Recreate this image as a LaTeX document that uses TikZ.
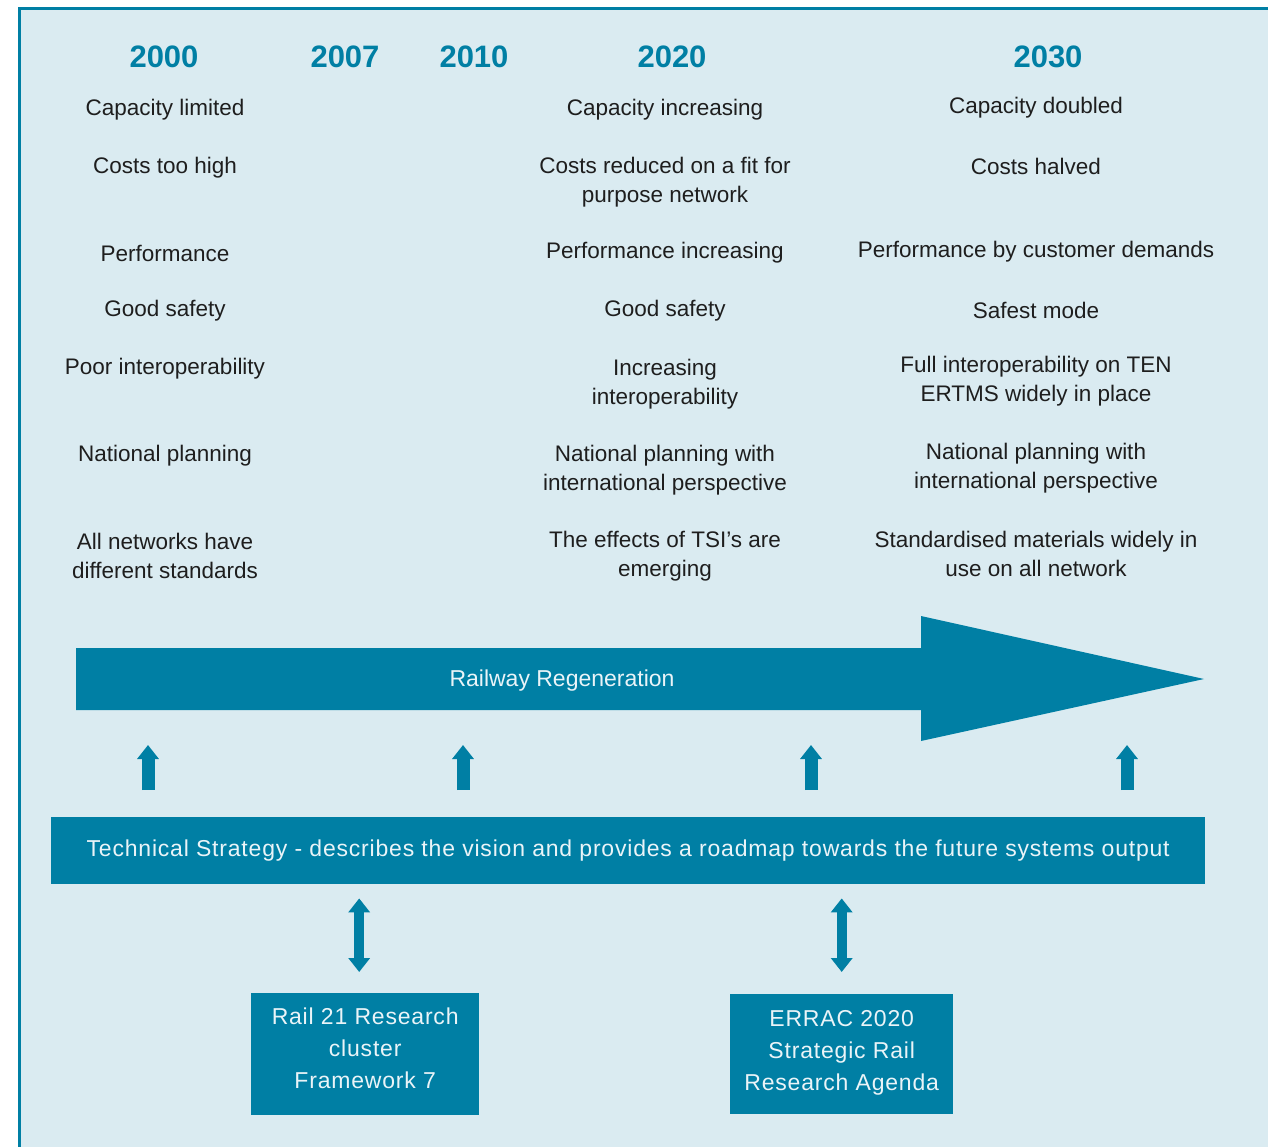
\documentclass[tikz,border=0pt]{standalone}
\usepackage{fontspec}
\setmainfont{Liberation Sans}
\newfontfamily\bandfont[LetterSpace=3.5]{Liberation Sans}
\usepackage{tikz}
\usetikzlibrary{positioning, arrows.meta, calc}
\definecolor{railTeal}{HTML}{007FA4}
\definecolor{panelBg}{HTML}{DAEBF1}
\definecolor{ink}{HTML}{1E1E1E}
\definecolor{bandText}{HTML}{EAF4F8}

\begin{document}
\begin{tikzpicture}[x=1pt,y=-1pt,txt/.style={font=\fontsize{22.5}{29}\selectfont, text=ink, align=center, inner sep=0pt},yr/.style={font=\fontsize{31}{36}\selectfont\bfseries, text=railTeal, inner sep=0pt},band/.style={fill=railTeal, text=bandText, align=center, font=\bandfont\fontsize{23}{32}\selectfont},uparrow/.style={draw=railTeal, line width=13pt, -{Triangle[width=21pt,length=14pt]}},twoway/.style={draw=railTeal, line width=10pt, {Triangle[width=21pt,length=14pt]}-{Triangle[width=21pt,length=14pt]}}]
\useasboundingbox (0,0) rectangle (1268,1147);
\fill[panelBg] (19,9) rectangle (1268,1147);
\draw[railTeal, line width=3pt] (1268,9) -- (19,9) -- (19,1147);
\node[yr] (y2000) at (164,57) {2000};
\node[yr] (y2007) at (345,57) {2007};
\node[yr] (y2010) at (474,57) {2010};
\node[yr] (y2020) at (672,57) {2020};
\node[yr] (y2030) at (1048,57) {2030};
\node[txt] (cap00) at (165,110) {Capacity limited};
\node[txt] (cost00) at (165,168) {Costs too high};
\node[txt] (perf00) at (165,253) {Performance};
\node[txt] (safe00) at (165,311) {Good safety};
\node[txt] (inter00) at (165,369) {Poor interoperability};
\node[txt] (plan00) at (165,456) {National planning};
\node[txt] (std00) at (165,556) {All networks have\\different standards};
\node[txt] (cap20) at (665,110) {Capacity increasing};
\node[txt] (cost20) at (665,182) {Costs reduced on a fit for\\purpose network};
\node[txt] (perf20) at (665,253) {Performance increasing};
\node[txt] (safe20) at (665,311) {Good safety};
\node[txt] (inter20) at (665,384) {Increasing\\interoperability};
\node[txt] (plan20) at (665,470) {National planning with\\international perspective};
\node[txt] (std20) at (665,556) {The effects of TSI’s are\\emerging};
\node[txt] (cap30) at (1036,108) {Capacity doubled};
\node[txt] (cost30) at (1036,166) {Costs halved};
\node[txt] (perf30) at (1036,252) {Performance by customer demands};
\node[txt] (safe30) at (1036,310) {Safest mode};
\node[txt] (inter30) at (1036,381) {Full interoperability on TEN\\ERTMS widely in place};
\node[txt] (plan30) at (1036,468) {National planning with\\international perspective};
\node[txt] (std30) at (1036,554) {Standardised materials widely in\\use on all network};
\fill[railTeal] (76,648) -- (921,648) -- (921,616) -- (1204,679) -- (921,741) -- (921,710) -- (76,710) -- cycle;
\node[txt, text=bandText, font=\fontsize{23}{29}\selectfont] (regen) at (562,681) {Railway Regeneration};
\foreach \x in {148,463,811,1127} \draw[uparrow] (\x,790) -- (\x,745);
\node[band, minimum width=1154pt, minimum height=67pt, anchor=north west] (strat) at (51,817) {Technical Strategy - describes the vision and provides a roadmap towards the future systems output};
\node[band, minimum width=228pt, minimum height=122pt, text depth=12pt, anchor=north west] (rail21) at (251,993) {Rail 21 Research\\cluster\\Framework 7};
\node[band, minimum width=223pt, minimum height=120pt, text depth=8pt, anchor=north west] (errac) at (730,994) {ERRAC 2020\\Strategic Rail\\Research Agenda};
\coordinate (r21top) at ([xshift=-6pt]rail21.north);
\draw[twoway] ($(r21top |- strat.south)+(0,14)$) -- ([yshift=21pt]r21top);
\draw[twoway] ($(errac.north |- strat.south)+(0,14)$) -- ([yshift=22pt]errac.north);
\end{tikzpicture}
\end{document}
